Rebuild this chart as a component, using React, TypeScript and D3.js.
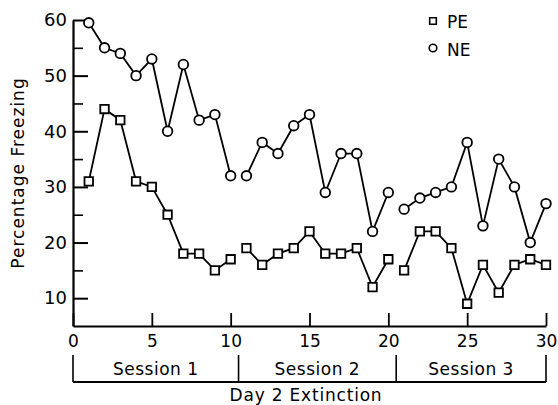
import { axisBottom, axisLeft, line, scaleLinear, select, symbol, symbolSquare } from "d3";
import { useEffect, useRef } from "react";

// trials on day 2, three sessions of ten
const trials = [1, 2, 3, 4, 5, 6, 7, 8, 9, 10, 11, 12, 13, 14, 15, 16, 17, 18, 19, 20, 21, 22, 23, 24, 25, 26, 27, 28, 29, 30];
const pe = [31, 44, 42, 31, 30, 25, 18, 18, 15, 17, 19, 16, 18, 19, 22, 18, 18, 19, 12, 17, 15, 22, 22, 19, 9, 16, 11, 16, 17, 16];
const ne = [59.5, 55, 54, 50, 53, 40, 52, 42, 43, 32, 32, 38, 36, 41, 43, 29, 36, 36, 22, 29, 26, 28, 29, 30, 38, 23, 35, 30, 20, 27];
const sessionNames = ["Session 1", "Session 2", "Session 3"];
const sessionBounds = [0, 10.5, 20.5, 30];
const yMajor = [10, 20, 30, 40, 50, 60];
const yMinor = [15, 25, 35, 45, 55];
const xTicks = [0, 5, 10, 15, 20, 25, 30];

const font = "'DejaVu Sans', sans-serif";

export default function App() {
    const ref = useRef<SVGSVGElement>(null);

    useEffect(() => {
        const svg = select(ref.current);
        svg.selectAll("*").remove();

        const x = scaleLinear().domain([0, 30]).range([73, 546]);
        const y = scaleLinear().domain([5, 60]).range([326, 20]);

        // y axis, ticks pointing inward
        const ya = svg.append("g").attr("transform", `translate(${x(0)},0)`)
            .call(axisLeft(y).tickValues(yMajor).tickSizeInner(-15).tickSizeOuter(0).tickPadding(6).tickFormat((d: any) => String(d)));
        ya.select(".domain").attr("stroke-width", 2.2);
        ya.selectAll("line").attr("stroke-width", 2);
        ya.selectAll("text").attr("font-family", font).attr("font-size", 18).attr("fill", "#000");
        const ym = svg.append("g").attr("transform", `translate(${x(0)},0)`)
            .call(axisLeft(y).tickValues(yMinor).tickSizeInner(-10).tickSizeOuter(0).tickFormat(() => ""));
        ym.select(".domain").remove();
        ym.selectAll("line").attr("stroke-width", 1.6);

        // x axis, ticks pointing up
        const xa = svg.append("g").attr("transform", `translate(0,${y(5)})`)
            .call(axisBottom(x).tickValues(xTicks).tickSizeInner(-13).tickSizeOuter(0).tickPadding(9).tickFormat((d: any) => String(d)));
        xa.select(".domain").attr("stroke-width", 2.2);
        xa.selectAll("line").attr("stroke-width", 1.8);
        xa.selectAll("text").attr("font-family", font).attr("font-size", 17).attr("fill", "#000");

        // data lines, broken between sessions
        const ln = line<[number, number]>().x(d => x(d[0])).y(d => y(d[1]));
        const series = [ne, pe];
        series.forEach(vals => {
            sessionNames.forEach((_, s) => {
                const pts: [number, number][] = trials
                    .map((t, i) => [t, vals[i]] as [number, number])
                    .filter(d => d[0] > sessionBounds[s] && d[0] <= sessionBounds[s + 1]);
                svg.append("path").datum(pts).attr("d", ln).attr("fill", "none")
                    .attr("stroke", "#000").attr("stroke-width", 1.8);
            });
        });

        const sq = symbol().type(symbolSquare).size(72);
        svg.append("g").selectAll("path").data(trials).join("path")
            .attr("d", sq as any)
            .attr("transform", (t, i) => `translate(${x(t)},${y(pe[i])})`)
            .attr("fill", "#fff").attr("stroke", "#000").attr("stroke-width", 1.8);
        svg.append("g").selectAll("circle").data(trials).join("circle")
            .attr("cx", t => x(t)).attr("cy", (t, i) => y(ne[i])).attr("r", 4.8)
            .attr("fill", "#fff").attr("stroke", "#000").attr("stroke-width", 1.8);

        // legend
        svg.append("path").attr("d", symbol().type(symbolSquare).size(44) as any)
            .attr("transform", "translate(433,21)")
            .attr("fill", "#fff").attr("stroke", "#000").attr("stroke-width", 1.6);
        svg.append("circle").attr("cx", 433).attr("cy", 48).attr("r", 3.8)
            .attr("fill", "#fff").attr("stroke", "#000").attr("stroke-width", 1.6);
        svg.append("text").attr("x", 447).attr("y", 28).text("PE")
            .attr("font-family", font).attr("font-size", 17);
        svg.append("text").attr("x", 447).attr("y", 56).text("NE")
            .attr("font-family", font).attr("font-size", 17);

        // y title
        svg.append("text").attr("transform", "translate(24,173) rotate(-90)")
            .attr("text-anchor", "middle").attr("font-family", font).attr("font-size", 17)
            .attr("letter-spacing", 1).text("Percentage Freezing");

        // session bracket
        const by = 382;
        svg.append("line").attr("x1", x(0)).attr("x2", x(30)).attr("y1", by).attr("y2", by)
            .attr("stroke", "#000").attr("stroke-width", 1.8);
        svg.append("g").selectAll("line").data(sessionBounds).join("line")
            .attr("x1", d => x(d)).attr("x2", d => x(d)).attr("y1", 355).attr("y2", by)
            .attr("stroke", "#000").attr("stroke-width", 1.6);
        svg.append("g").selectAll("text").data(sessionNames).join("text")
            .attr("x", (d, i) => (x(sessionBounds[i]) + x(sessionBounds[i + 1])) / 2)
            .attr("y", 375).attr("text-anchor", "middle")
            .attr("font-family", font).attr("font-size", 17).attr("letter-spacing", 0.5).text(d => d);
        svg.append("text").attr("x", 306).attr("y", 401).attr("text-anchor", "middle")
            .attr("font-family", font).attr("font-size", 17).attr("letter-spacing", 0.8)
            .text("Day 2 Extinction");
    }, []);

    return (
        <svg ref={ref} width={558} height={405} viewBox="0 0 558 405"
            style={{ position: "absolute", left: 0, top: 0, background: "#fff" }}></svg>
    );
}
